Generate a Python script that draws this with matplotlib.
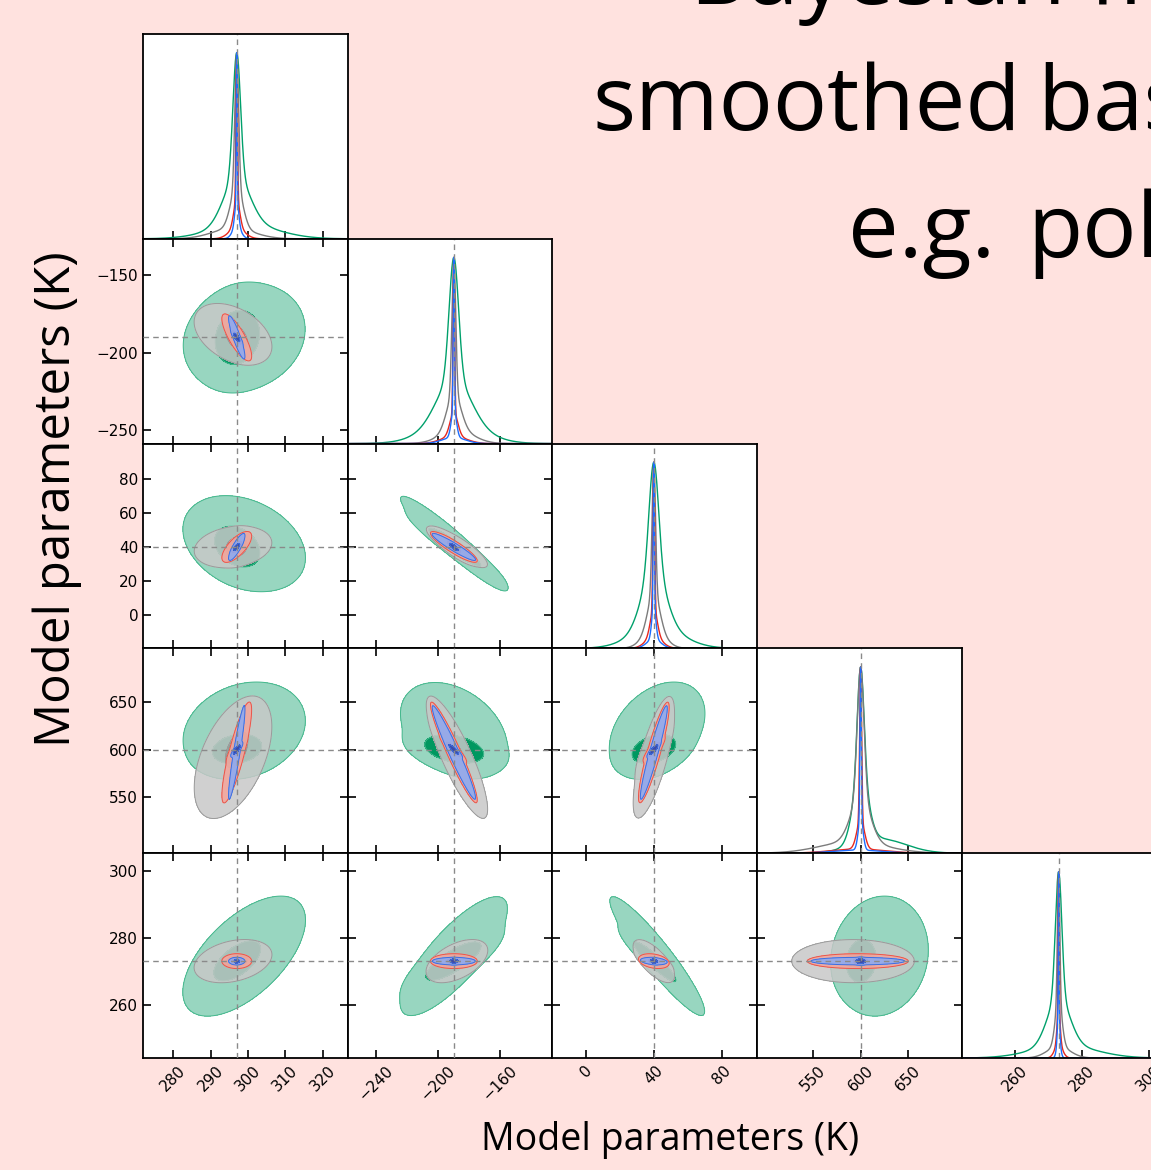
import numpy as np
import matplotlib

matplotlib.use("Agg")
import matplotlib.pyplot as plt

FIG_W, FIG_H = 1151, 1170
BG = "#ffe2df"

# --- parameters (K): truth, plotted range, tick marks -------------------------
truths = [297.0, -190.0, 40.0, 600.0, 273.0]
lows = [271.9, -258.5, -19.9, 491.5, 244.1]
highs = [326.7, -126.4, 101.0, 706.0, 305.2]
xticks = [[280, 290, 300, 310, 320], [-240, -200, -160], [0, 40, 80], [550, 600, 650], [260, 280, 300]]
yticks = [[], [-250, -200, -150], [0, 20, 40, 60, 80], [550, 600, 650], [260, 280, 300]]

# --- posterior summaries -------------------------------------------------------
# each posterior = core + mid + tail component; core/mid sit on the truth
methods = ["green", "grey", "red", "blue"]
core_w = {
    "green": [1.0, 3.0, 2.8, 3.5, 0.95],
    "grey": [0.5, 1.2, 1.0, 3.5, 0.35],
    "red": [0.2, 0.5, 0.5, 1.0, 0.15],
    "blue": [0.12, 0.4, 0.35, 0.7, 0.1],
}
mid_w = {
    "green": [3.5, 10.7, 7.0, 8.0, 3.3],
    "grey": [1.6, 4.5, 3.5, 10.0, 1.0],
    "red": [0.8, 2.5, 2.0, 4.0, 0.45],
    "blue": [0.5, 1.6, 1.2, 2.5, 0.3],
}
tail_w = {
    "green": [8.7, 18.5, 15.0, 27.0, 9.5],
    "grey": [5.5, 10.5, 6.5, 34.0, 3.4],
    "red": [2.1, 8.0, 4.8, 28.0, 1.15],
    "blue": [1.15, 7.4, 4.2, 26.0, 0.55],
}
# offset of the tail component from the truth
tail_shift = {
    "green": [2.0, 0.0, 2.0, 20.0, 1.5],
    "grey": [-1.0, 2.0, 0.0, -8.0, 0.0],
    "red": [0.0, 0.0, 0.0, -3.0, 0.0],
    "blue": [0.0, 0.0, 0.0, -3.0, 0.0],
}
mass = {
    "green": [0.3, 0.4, 0.3],
    "grey": [0.35, 0.35, 0.3],
    "red": [0.4, 0.3, 0.3],
    "blue": [0.4, 0.3, 0.3],
}
pairs = [(0, 1), (0, 2), (1, 2), (0, 3), (1, 3), (2, 3), (0, 4), (1, 4), (2, 4), (3, 4)]
corr = {
    "green": [0.15, -0.3, -0.95, 0.2, -0.35, 0.35, 0.6, 0.8, -0.93, 0.1],
    "grey": [-0.4, 0.2, -0.85, 0.5, -0.85, 0.75, 0.3, 0.5, -0.7, 0.0],
    "red": [-0.8, 0.7, -0.9, 0.85, -0.95, 0.9, 0.0, 0.0, -0.3, 0.0],
    "blue": [-0.9, 0.85, -0.95, 0.93, -0.97, 0.95, 0.0, 0.0, -0.3, 0.0],
}

line_col = {"green": "#00a06b", "grey": "#7c7c7c", "red": "#e8281e", "blue": "#1c6dff"}
fill_light = {"green": "#98d6c0", "grey": "#c8c8c8", "red": "#f2a79e", "blue": "#8eaaf0"}
fill_dark = {"green": "#009860", "grey": "#a4a4a4", "red": "#e8675c", "blue": "#2a47b0"}
edge_col = {"green": "#45b88d", "grey": "#9a9a9a", "red": "#e8554a", "blue": "#3d6ee0"}
fill_alpha = {"green": 1.0, "grey": 0.85, "red": 0.9, "blue": 0.9}


def components(m, i):
    """(mass, centre, width) of the three components for parameter i."""
    cen = [truths[i], truths[i], truths[i] + tail_shift[m][i]]
    wid = [core_w[m][i], mid_w[m][i], tail_w[m][i]]
    return list(zip(mass[m], cen, wid))


def profile_1d(m, i, x):
    y = np.zeros_like(x)
    for w, mu, s in components(m, i):
        y += w / s * np.exp(-0.5 * ((x - mu) / s) ** 2)
    return y / y.max()


def density_2d(m, i, j, X, Y, hx, hy):
    rho = corr[m][pairs.index((i, j))]
    Z = np.zeros_like(X)
    for (w, mx, sx), (_, my, sy) in zip(components(m, i), components(m, j)):
        dx = X - mx
        dy = Y - my
        cxx = sx ** 2 + hx ** 2
        cyy = sy ** 2 + hy ** 2
        cxy = rho * sx * sy
        det = cxx * cyy - cxy ** 2
        q = (cyy * dx * dx - 2 * cxy * dx * dy + cxx * dy * dy) / det
        Z += w * np.exp(-0.5 * q) / (2 * np.pi * np.sqrt(det))
    return Z


def hpd_levels(Z, fracs=(0.95, 0.68)):
    flat = np.sort(Z.ravel())[::-1]
    cum = np.cumsum(flat)
    cum /= cum[-1]
    return [flat[np.searchsorted(cum, f)] for f in fracs]


fig = plt.figure(figsize=(FIG_W / 100, FIG_H / 100), dpi=100, facecolor=BG)

left0, top0, cell_w, cell_h = 143, 34, 204.7, 204.8
n = 5
for r in range(n):
    for c in range(r + 1):
        ax = fig.add_axes([
            (left0 + c * cell_w) / FIG_W,
            1 - (top0 + (r + 1) * cell_h) / FIG_H,
            cell_w / FIG_W,
            cell_h / FIG_H,
        ])
        ax.set_facecolor("white")
        for sp in ax.spines.values():
            sp.set_linewidth(1.3)
        ax.set_xlim(lows[c], highs[c])
        ax.set_xticks(xticks[c])

        if r == c:
            x = np.linspace(lows[c], highs[c], 2000)
            for m in methods:
                ax.plot(x, profile_1d(m, c, x), color=line_col[m], lw=1.0)
            ax.axvline(truths[c], color="#8a8a8a", lw=1.0, ls=(0, (4, 3)))
            ax.set_ylim(0, 1.1)
            ax.set_yticks([])
            ax.tick_params(axis="x", direction="in", length=6, width=1.2, top=False, labelsize=11)
        else:
            nx = 300
            xs = np.linspace(lows[c], highs[c], nx)
            ys = np.linspace(lows[r], highs[r], nx)
            X, Y = np.meshgrid(xs, ys)
            hx = (highs[c] - lows[c]) / nx
            hy = (highs[r] - lows[r]) / nx
            for z, m in enumerate(methods):
                Z = density_2d(m, c, r, X, Y, hx, hy)
                l95, l68 = hpd_levels(Z)
                ax.contourf(X, Y, Z, levels=[l95, l68, Z.max() * 1.01],
                            colors=[fill_light[m], fill_dark[m]], alpha=fill_alpha[m], zorder=z + 1)
                ax.contour(X, Y, Z, levels=[l95, l68], colors=edge_col[m], linewidths=0.7, zorder=z + 1)
            ax.axvline(truths[c], color="#8a8a8a", lw=1.0, ls=(0, (4, 3)), zorder=6)
            ax.axhline(truths[r], color="#8a8a8a", lw=1.0, ls=(0, (4, 3)), zorder=6)
            ax.set_ylim(lows[r], highs[r])
            ax.set_yticks(yticks[r])
            ax.tick_params(direction="in", length=6, width=1.2, top=True, right=True, labelsize=11)

        if r == n - 1:
            for lab in ax.get_xticklabels():
                lab.set_rotation(45)
        else:
            ax.set_xticklabels([])
        if c != 0 or r == c:
            ax.set_yticklabels([])

# slide text around the corner plot (runs off the right edge, as on the slide)
title_kw = dict(family="Open Sans", fontsize=65, color="black", va="baseline", ha="left")
fig.text(690 / FIG_W, 1 - 4 / FIG_H, "Bayesian fits with", **title_kw)
fig.text(592 / FIG_W, 1 - 130 / FIG_H, "smoothed", **title_kw)
fig.text(1038 / FIG_W, 1 - 130 / FIG_H, "basis functions", **title_kw)
fig.text(848 / FIG_W, 1 - 257 / FIG_H, "e.g.", **title_kw)
fig.text(1027 / FIG_W, 1 - 257 / FIG_H, "polynomials", **title_kw)

fig.text(670 / FIG_W, 1 - 1150 / FIG_H, "Model parameters (K)", family="Open Sans",
         fontsize=27, ha="center", va="baseline")
fig.text(57 / FIG_W, 1 - 499 / FIG_H, "Model parameters (K)", family="Open Sans",
         fontsize=35.5, ha="center", va="center", rotation=90)

fig.savefig("out.png", dpi=100, facecolor=BG)
